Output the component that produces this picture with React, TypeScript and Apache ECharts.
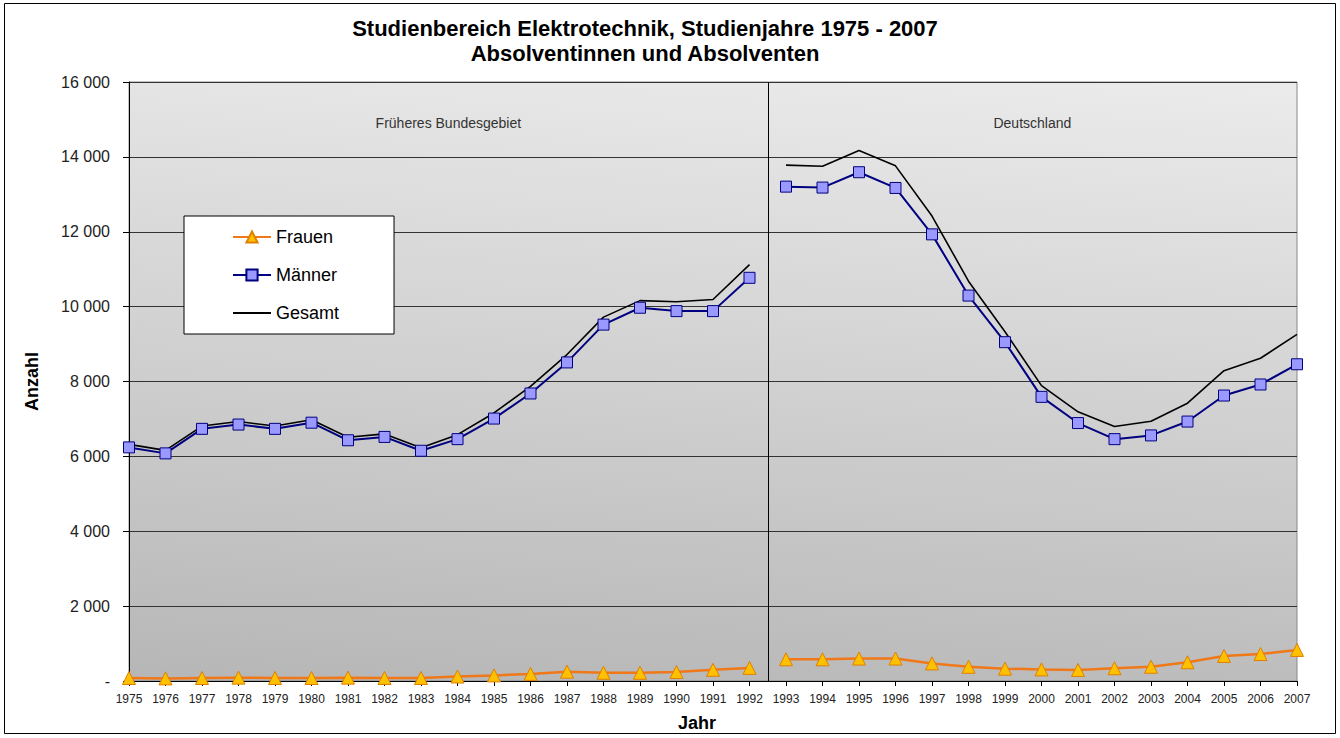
import React, { useEffect, useRef } from "react";
import * as echarts from "echarts";

const years = [
  1975, 1976, 1977, 1978, 1979, 1980, 1981, 1982, 1983, 1984, 1985, 1986,
  1987, 1988, 1989, 1990, 1991, 1992, 1993, 1994, 1995, 1996, 1997, 1998,
  1999, 2000, 2001, 2002, 2003, 2004, 2005, 2006, 2007,
];

const frauen = [
  80, 70, 80, 90, 80, 80, 90, 80, 80, 120, 150, 190, 250, 220, 220, 240, 300,
  350, 580, 580, 600, 600, 470, 380, 330, 310, 295, 340, 380, 500, 670, 720,
  830,
];

const maenner = [
  6240, 6080, 6735, 6850, 6735, 6900, 6430, 6520, 6150, 6460, 7010, 7680,
  8510, 9520, 9970, 9880, 9880, 10770, 13205, 13180, 13590, 13170, 11930,
  10295, 9050, 7590, 6890, 6460, 6560, 6930, 7625, 7920, 8460,
];

const gesamt = [
  6320, 6160, 6810, 6930, 6810, 6980, 6510, 6600, 6230, 6580, 7160, 7870,
  8720, 9720, 10160, 10130, 10190, 11120, 13780, 13750, 14170, 13760, 12420,
  10680, 9330, 7890, 7190, 6800, 6940, 7420, 8290, 8620, 9260,
];

const seriesNames = ["Frauen", "Männer", "Gesamt"];
const regionLabels = ["Früheres Bundesgebiet", "Deutschland"];
const titleLines = [
  "Studienbereich Elektrotechnik, Studienjahre 1975 - 2007",
  "Absolventinnen und Absolventen",
];
const xAxisName = "Jahr";
const yAxisName = "Anzahl";
const breakYear = 1992.5;
const splitIndex = 18; // first year of "Deutschland" period (1993)

const FONT = "'Liberation Sans', Arial, Helvetica, sans-serif";

function part(values: number[], first: boolean) {
  return years
    .map((y, i) => [y, values[i]])
    .filter((_, i) => (first ? i < splitIndex : i >= splitIndex));
}

function fmtThousands(v: number) {
  if (v === 0) return "-";
  return String(v).replace(/\B(?=(\d{3})+(?!\d))/g, " ");
}

export default function App() {
  const ref = useRef<HTMLDivElement>(null);

  useEffect(() => {
    if (!ref.current) return;
    const chart = echarts.init(ref.current, undefined, { renderer: "svg" });

    const frauenStyle = {
      type: "line",
      name: seriesNames[0],
      symbol: "triangle",
      symbolSize: 13,
      lineStyle: { color: "#f07818", width: 2.5 },
      itemStyle: { color: "#ffc000", borderColor: "#e08000", borderWidth: 1 },
      z: 3,
    };
    const maennerStyle = {
      type: "line",
      name: seriesNames[1],
      symbol: "rect",
      symbolSize: 11,
      lineStyle: { color: "#000080", width: 2 },
      itemStyle: { color: "#9999ff", borderColor: "#000080", borderWidth: 1 },
      z: 4,
    };
    const gesamtStyle = {
      type: "line",
      name: seriesNames[2],
      symbol: "none",
      lineStyle: { color: "#000000", width: 1.6 },
      itemStyle: { color: "#000000" },
      z: 2,
    };

    const option: any = {
      animation: false,
      backgroundColor: "#ffffff",
      textStyle: { fontFamily: FONT },
      title: {
        text: titleLines.join("\n"),
        left: 645,
        textAlign: "center",
        top: 16,
        padding: 0,
        textStyle: {
          fontFamily: FONT,
          fontSize: 22,
          fontWeight: "bold",
          color: "#000",
          lineHeight: 25,
        },
      },
      legend: {
        data: [
          { name: seriesNames[0] },
          { name: seriesNames[1] },
          { name: seriesNames[2], itemStyle: { opacity: 0 } },
        ],
        orient: "vertical",
        left: 184,
        top: 216,
        backgroundColor: "#ffffff",
        borderColor: "#000000",
        borderWidth: 1,
        borderRadius: 0,
        padding: [12, 55, 12, 48],
        itemWidth: 38,
        itemHeight: 14,
        itemGap: 20,
        selectedMode: false,
        textStyle: { fontFamily: FONT, fontSize: 18, color: "#000" },
      },
      grid: {
        left: 129,
        right: 43,
        top: 82,
        bottom: 57,
        show: true,
        borderColor: "#888",
        borderWidth: 1,
        backgroundColor: new echarts.graphic.LinearGradient(0, 1, 0.21, -0.43, [
          { offset: 0, color: "#b6b6b6" },
          { offset: 1, color: "#fafafa" },
        ]),
      },
      xAxis: {
        type: "value",
        min: 1975,
        max: 2007,
        interval: 1,
        name: xAxisName,
        nameLocation: "middle",
        nameGap: 33,
        nameTextStyle: {
          fontFamily: FONT,
          fontSize: 18,
          fontWeight: "bold",
          color: "#000",
          padding: [0, 32, 0, 0],
        },
        axisLine: { show: true, lineStyle: { color: "#000", width: 1 } },
        axisTick: { show: true, length: 5, lineStyle: { color: "#000" } },
        axisLabel: {
          fontFamily: FONT,
          fontSize: 12,
          color: "#222",
          margin: 12,
          formatter: (v: number) => String(v),
        },
        splitLine: { show: false },
      },
      yAxis: {
        type: "value",
        min: 0,
        max: 16000,
        interval: 2000,
        name: yAxisName,
        nameLocation: "middle",
        nameGap: 88,
        nameTextStyle: {
          fontFamily: FONT,
          fontSize: 18,
          fontWeight: "bold",
          color: "#000",
        },
        axisLine: { show: true, lineStyle: { color: "#000", width: 1 } },
        axisTick: { show: true, length: 6, lineStyle: { color: "#000" } },
        axisLabel: {
          fontFamily: FONT,
          fontSize: 16,
          color: "#222",
          margin: 19,
          formatter: (v: number) => fmtThousands(v),
        },
        splitLine: { show: true, lineStyle: { color: "#333", width: 1 } },
      },
      graphic: [
        {
          type: "rect",
          silent: true,
          z: 100,
          shape: { x: 4.5, y: 3.5, width: 1331, height: 730 },
          style: { fill: "none", stroke: "#000", lineWidth: 1 },
        },
      ],
      series: [
        { ...frauenStyle, data: part(frauen, true) },
        { ...frauenStyle, data: part(frauen, false) },
        { ...maennerStyle, data: part(maenner, true) },
        { ...maennerStyle, data: part(maenner, false) },
        {
          ...gesamtStyle,
          data: part(gesamt, true),
          markLine: {
            silent: true,
            symbol: ["none", "none"],
            label: { show: false },
            lineStyle: { color: "#000", width: 1, type: "solid" },
            data: [{ xAxis: breakYear }],
          },
          markArea: {
            silent: true,
            itemStyle: { color: "rgba(0,0,0,0)" },
            label: {
              position: "insideTop",
              distance: 34,
              color: "#333",
              fontFamily: FONT,
              fontSize: 14,
            },
            data: [
              [{ name: regionLabels[0], xAxis: 1975 }, { xAxis: breakYear }],
              [{ name: regionLabels[1], xAxis: breakYear }, { xAxis: 2007 }],
            ],
          },
        },
        { ...gesamtStyle, data: part(gesamt, false) },
      ],
    };

    chart.setOption(option);
    return () => chart.dispose();
  }, []);

  return (
    <div
      ref={ref}
      style={{ position: "absolute", left: 0, top: 0, width: 1340, height: 738 }}
    />
  );
}
